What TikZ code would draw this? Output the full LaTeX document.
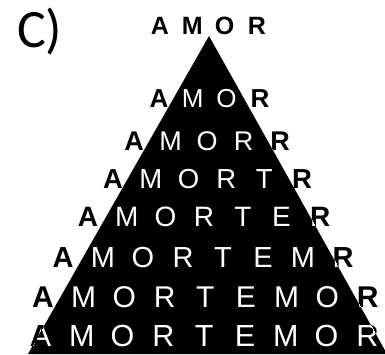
\documentclass[tikz,border=0pt]{standalone}
\usepackage{fontspec}
\setmainfont{Liberation Sans}
\newfontfamily\labelfont{Carlito}

% #1 colour, #2 weight, #3 name prefix
\newcommand\amorrows[3]{%
  \foreach \ry/\rx/\rd/\rs/\word [count=\r from 0] in {%
      26/160/32.3/25/{A,M,O,R},
      99/159/33.7/26/{A,M,O,R},
      141/134/36.5/27/{A,M,O,R,R},
      179/113/37.8/27.5/{A,M,O,R,T,R},
      217/88/38.7/28/{A,M,O,R,T,E,R},
      258/63/40/29/{A,M,O,R,T,E,M,R},
      297/43/40.6/30/{A,M,O,R,T,E,M,O,R},
      336/41/40.8/30.5/{A,M,O,R,T,E,M,O,R}}{
    \foreach \ch [count=\c from 0] in \word
      \node[letter=\rs, text=#1] (#3\r-\c) at (\rx+\c*\rd, \ry) {#2\ch};
  }}

\begin{document}
\begin{tikzpicture}[x=1pt, y=-1pt]
\tikzset{letter/.style={inner sep=0pt, font=\fontsize{#1}{#1}\selectfont}}
\useasboundingbox (0,0) rectangle (385,354);
\node[anchor=base west, inner sep=0pt, font=\labelfont\fontsize{54}{54}\selectfont] (label) at (17,47) {C)};
\coordinate (apex) at (209,36);
\coordinate (left) at (28,354);
\coordinate (right) at (387,354);
% letters outside the triangle
\amorrows{black}{\bfseries}{b}
\fill[black] (apex) -- (left) -- (right) -- cycle;
% letters inside the triangle
\begin{scope}
\clip (apex) -- (left) -- (right) -- cycle;
\amorrows{white}{\mdseries}{w}
\end{scope}
\end{tikzpicture}
\end{document}
